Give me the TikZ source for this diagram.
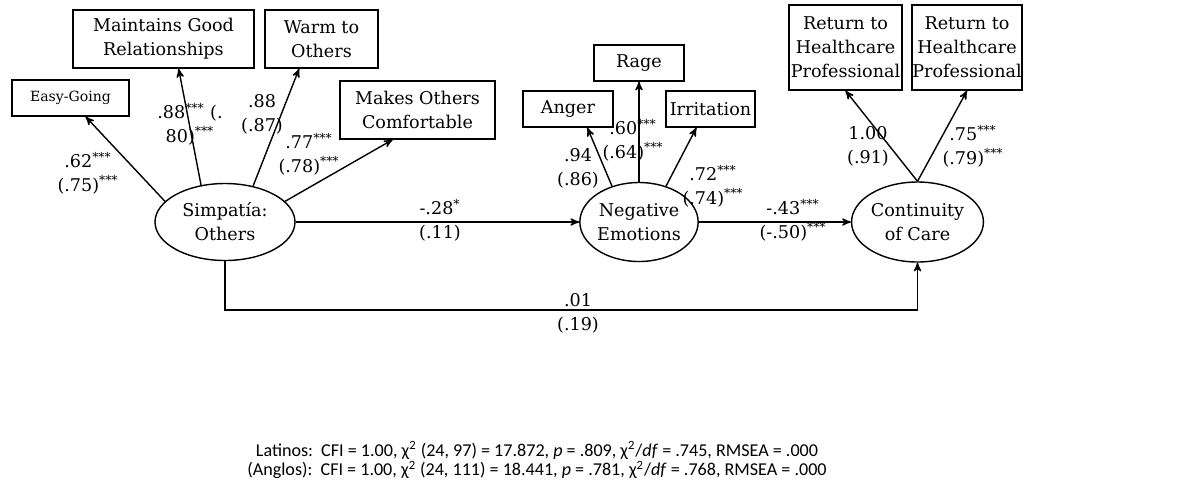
\documentclass[tikz,border=0pt]{standalone}
\usepackage{fontspec}
\setmainfont{DejaVu Serif}
\newfontfamily\notefont{Carlito}
\usetikzlibrary{arrows}
\usetikzlibrary{shapes.geometric}
\tikzset{
	>=stealth',
	indicator/.style={
		rectangle,
		draw=black, line width=0.8pt,
		inner sep=0pt,
		align=center,
		font=\fontsize{10}{13.6}\selectfont},
	factor/.style={
		ellipse,
		draw=black, line width=0.8pt,
		inner sep=0pt,
		align=center,
		font=\fontsize{10}{13.6}\selectfont},
	load/.style={draw, line width=0.8pt, ->},
	weight/.style={
		align=center,
		inner sep=0pt,
		font=\fontsize{10}{13.6}\selectfont},
}

\begin{document}
\begin{tikzpicture}
	[x=0.02cm, y=-0.02cm]
	\useasboundingbox (0,0) rectangle (1183,491);
	% latent factors
	\node[factor, minimum width=2.8cm, minimum height=1.54cm] (simp) at (225,222) {Simpatía:\\Others};
	\node[factor, minimum width=1.88cm, minimum height=1.58cm] (neg) at (639,222) {Negative\\Emotions};
	\node[factor, minimum width=1.9cm, minimum height=1.6cm] (cont) at (917.5,222) {Continuity\\of Care};
	% indicators
	\node[indicator, minimum width=2.34cm, minimum height=0.72cm, font=\fontsize{8}{10}\selectfont] (easy) at (70.5,98) {Easy-Going};
	\node[indicator, minimum width=3.62cm, minimum height=1.16cm] (maint) at (163.5,39) {Maintains Good\\Relationships};
	\node[indicator, minimum width=2.26cm, minimum height=1.16cm] (warm) at (321.5,39) {Warm to\\Others};
	\node[indicator, minimum width=3.1cm, minimum height=1.16cm] (makes) at (417.5,110) {Makes Others\\Comfortable};
	\node[indicator, minimum width=1.8cm, minimum height=0.72cm] (anger) at (568,109) {Anger};
	\node[indicator, minimum width=1.8cm, minimum height=0.72cm] (rage) at (639,63) {Rage};
	\node[indicator, minimum width=1.78cm, minimum height=0.72cm] (irrit) at (710.5,109) {Irritation};
	\node[indicator, minimum width=2.26cm, minimum height=1.7cm] (retone) at (845.5,47.5) {Return to\\Healthcare\\Professional};
	\node[indicator, minimum width=2.2cm, minimum height=1.7cm] (rettwo) at (967,47.5) {Return to\\Healthcare\\Professional};
	% loadings
	\draw[load] (simp.161) -- (easy.-51);
	\draw[load] (simp.123) -- (maint.-63);
	\draw[load] (simp.52) -- (warm.-127);
	\draw[load] (simp.19) -- (makes.-130);
	\draw[load] (neg.127) -- (anger.-44);
	\draw[load] (neg.north) -- (rage.south);
	\draw[load] (neg.53) -- (irrit.-127);
	\draw[load] (cont.north) -- (retone.south);
	\draw[load] (cont.north) -- (rettwo.south);
	% structural paths
	\coordinate (low) at (600,310);
	\draw[load] (simp) -- (neg);
	\draw[load] (neg) -- (cont);
	\draw[load] (simp.south) |- (low) -| (cont.south);
	% weights
	\node[weight] (weasy) at (88,173) {.62\textsuperscript{***}\\(.75)\textsuperscript{***}};
	\node[weight] (wmaint) at (190,124) {.88\textsuperscript{***} (.\\80)\textsuperscript{***}};
	\node[weight] (wwarm) at (262,114) {.88\\(.87)};
	\node[weight] (wmakes) at (309,154) {.77\textsuperscript{***}\\(.78)\textsuperscript{***}};
	\node[weight] (wanger) at (578,168) {.94\\(.86)};
	\node[weight] (wrage) at (633,140) {.60\textsuperscript{***}\\(.64)\textsuperscript{***}};
	\node[weight] (wirrit) at (713,186) {.72\textsuperscript{***}\\(.74)\textsuperscript{***}};
	\node[weight] (wretone) at (868,146) {1.00\\(.91)};
	\node[weight] (wrettwo) at (973,146) {.75\textsuperscript{***}\\(.79)\textsuperscript{***}};
	\node[weight] (wsn) at (440,220) {-.28\textsuperscript{*}\\(.11)};
	\node[weight] (wnc) at (793,220) {-.43\textsuperscript{***}\\(-.50)\textsuperscript{***}};
	\node[weight] (wsc) at (578,313) {.01\\(.19)};
	% fit indices
	\node[align=center, inner sep=0pt, font=\notefont\fontsize{10.3}{11}\selectfont] (fit) at (537,460)
		{Latinos:\ \ CFI = 1.00, χ\textsuperscript{2} (24, 97) = 17.872, \textit{p} = .809, χ\textsuperscript{2}/\textit{df} = .745, RMSEA = .000\\
		(Anglos):\ \ CFI = 1.00, χ\textsuperscript{2} (24, 111) = 18.441, \textit{p} = .781, χ\textsuperscript{2}/\textit{df} = .768, RMSEA = .000};
\end{tikzpicture}
\end{document}
